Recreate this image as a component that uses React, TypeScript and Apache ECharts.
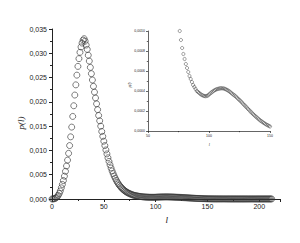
import React, { useEffect, useRef } from "react";
import * as echarts from "echarts";

// l runs from 0 in steps of 1
const lStart = 0;
const pValues: number[] = [
  // 0-9
  0, 0.00001, 0.00005, 0.00012, 0.00025, 0.00045, 0.00075, 0.00115, 0.00165, 0.0023,
  // 10-19
  0.003, 0.0038, 0.0047, 0.0057, 0.0068, 0.008, 0.0094, 0.011, 0.0128, 0.0148,
  // 20-29
  0.017, 0.0192, 0.0214, 0.0235, 0.0255, 0.0273, 0.0289, 0.0302, 0.0313, 0.0321,
  // 30-39
  0.0327, 0.033, 0.0325, 0.0317, 0.0308, 0.0296, 0.0284, 0.0271, 0.0258, 0.0245,
  // 40-49
  0.0232, 0.022, 0.0208, 0.0196, 0.0184, 0.0172, 0.0161, 0.015, 0.0139, 0.0129,
  // 50-59
  0.0119, 0.011, 0.0101, 0.00928, 0.00848, 0.00773, 0.00703, 0.00638, 0.00578, 0.00523,
  // 60-69
  0.00473, 0.00427, 0.00385, 0.00347, 0.00313, 0.00283, 0.00256, 0.00232, 0.0021, 0.0019,
  // 70-79
  0.00172, 0.00156, 0.00142, 0.0013, 0.00119, 0.00109, 0.001, 0.00091, 0.00083, 0.00077,
  // 80-89
  0.00072, 0.00067, 0.00063, 0.00059, 0.00055, 0.00052, 0.00049, 0.00046, 0.00044, 0.00042,
  // 90-99
  0.0004, 0.00039, 0.00038, 0.00037, 0.00036, 0.000355, 0.00035, 0.000348, 0.00035, 0.000355,
  // 100-109
  0.000365, 0.000375, 0.000385, 0.000395, 0.000403, 0.00041, 0.000416, 0.00042, 0.000424, 0.000426,
  // 110-119
  0.000427, 0.000427, 0.000425, 0.000421, 0.000416, 0.00041, 0.000402, 0.000393, 0.000383, 0.000373,
  // 120-129
  0.000364, 0.000354, 0.000344, 0.000333, 0.000321, 0.000309, 0.000297, 0.000285, 0.000272, 0.000259,
  // 130-139
  0.000246, 0.000234, 0.000221, 0.000208, 0.000195, 0.000183, 0.000171, 0.000159, 0.000148, 0.000137,
  // 140-149
  0.000126, 0.000116, 0.000106, 0.000097, 0.000088, 0.00008, 0.000072, 0.000065, 0.000058, 0.000051,
  // 150-159
  0.000045, 0.00004, 0.000036, 0.000032, 0.000029, 0.000026, 0.000024, 0.000022, 0.00002, 0.000019,
  // 160-169
  0.000018, 0.000017, 0.000017, 0.000016, 0.000016, 0.000015, 0.000015, 0.000014, 0.000014, 0.000013,
  // 170-179
  0.000013, 0.000013, 0.000012, 0.000012, 0.000012, 0.000011, 0.000011, 0.000011, 0.000011, 0.00001,
  // 180-189
  0.00001, 0.00001, 0.00001, 0.00001, 0.00001, 0.00001, 0.00001, 0.00001, 0.00001, 0.00001,
  // 190-199
  0.00001, 0.00001, 0.00001, 0.00001, 0.00001, 0.00001, 0.00001, 0.00001, 0.00001, 0.00001,
  // 200-212
  0.00001, 0.00001, 0.00001, 0.00001, 0.00001, 0.00001, 0.00001, 0.00001, 0.00001, 0.00001,
  0.00001, 0.00001, 0.00001,
];

const mainXRange = [0, 220];
const mainYRange = [0, 0.035];
const insetXRange = [50, 150];
const insetYRange = [0, 0.001];

const axisColor = "#222";
const labelFont = "Liberation Sans, Arial, sans-serif";
const titleFont = "Liberation Serif, Times New Roman, serif";

export default function App() {
  const ref = useRef<HTMLDivElement>(null);
  useEffect(() => {
    if (!ref.current) return;
    const chart = echarts.init(ref.current, null, { renderer: "svg" });
    const mainData = pValues.map((p, i) => [lStart + i, p]);
    const insetData = mainData.filter(
      ([l, p]) => l >= insetXRange[0] && l <= insetXRange[1] && p <= insetYRange[1]
    );
    const mkAxisLine = { show: true, onZero: false, lineStyle: { color: axisColor, width: 1 } };
    chart.setOption({
      animation: false,
      backgroundColor: "#fff",
      grid: [
        { left: 52, top: 29, width: 228, height: 170 },
        { left: 148, top: 31, width: 122, height: 100 },
      ],
      xAxis: [
        {
          gridIndex: 0,
          type: "value",
          min: mainXRange[0],
          max: mainXRange[1],
          interval: 50,
          axisLine: mkAxisLine,
          axisTick: { show: true, length: 3, lineStyle: { color: axisColor } },
          minorTick: { show: true, splitNumber: 2, length: 2, lineStyle: { color: axisColor } },
          splitLine: { show: false },
          axisLabel: { fontSize: 7, color: axisColor, margin: 4, fontFamily: labelFont, showMaxLabel: false },
        },
        {
          gridIndex: 1,
          type: "value",
          min: insetXRange[0],
          max: insetXRange[1],
          interval: 50,
          axisLine: { show: true, onZero: false, lineStyle: { color: axisColor, width: 0.7 } },
          axisTick: { show: true, length: 2, lineStyle: { color: axisColor, width: 0.7 } },
          minorTick: { show: true, splitNumber: 2, length: 1.2, lineStyle: { color: axisColor, width: 0.7 } },
          splitLine: { show: false },
          axisLabel: { fontSize: 3.5, color: axisColor, margin: 3, fontFamily: labelFont },
        },
      ],
      yAxis: [
        {
          gridIndex: 0,
          type: "value",
          min: mainYRange[0],
          max: mainYRange[1],
          interval: 0.005,
          axisLine: mkAxisLine,
          axisTick: { show: true, length: 3, lineStyle: { color: axisColor } },
          minorTick: { show: true, splitNumber: 2, length: 2, lineStyle: { color: axisColor } },
          splitLine: { show: false },
          axisLabel: {
            fontSize: 7,
            color: axisColor,
            margin: 5,
            fontFamily: labelFont,
            formatter: (v: number) => v.toFixed(3).replace(".", ","),
          },
        },
        {
          gridIndex: 1,
          type: "value",
          min: insetYRange[0],
          max: insetYRange[1],
          interval: 0.0002,
          axisLine: { show: true, onZero: false, lineStyle: { color: axisColor, width: 0.7 } },
          axisTick: { show: true, length: 2, lineStyle: { color: axisColor, width: 0.7 } },
          minorTick: { show: true, splitNumber: 2, length: 1.2, lineStyle: { color: axisColor, width: 0.7 } },
          splitLine: { show: false },
          axisLabel: {
            fontSize: 3.5,
            color: axisColor,
            margin: 3,
            fontFamily: labelFont,
            formatter: (v: number) => v.toFixed(4).replace(".", ","),
          },
        },
      ],
      series: [
        {
          type: "scatter",
          xAxisIndex: 0,
          yAxisIndex: 0,
          data: mainData,
          symbol: "circle",
          symbolSize: 6,
          clip: false,
          itemStyle: { color: "rgba(0,0,0,0)", borderColor: "#333", borderWidth: 0.8 },
        },
        {
          type: "scatter",
          xAxisIndex: 1,
          yAxisIndex: 1,
          data: insetData,
          symbol: "circle",
          symbolSize: 3.2,
          clip: true,
          itemStyle: { color: "rgba(0,0,0,0)", borderColor: "#333", borderWidth: 0.6 },
        },
      ],
      graphic: [
        {
          type: "text",
          x: 20.5,
          y: 123,
          rotation: Math.PI / 2,
          style: {
            text: "p(l)",
            font: `italic 9px ${titleFont}`,
            fill: "#111",
            align: "center",
            verticalAlign: "middle",
          },
        },
        {
          type: "text",
          x: 166.7,
          y: 220,
          style: {
            text: "l",
            font: `italic 9px ${titleFont}`,
            fill: "#111",
            align: "center",
            verticalAlign: "middle",
          },
        },
        {
          type: "text",
          x: 129.5,
          y: 85,
          rotation: Math.PI / 2,
          style: {
            text: "p(l)",
            font: `italic 3.5px ${titleFont}`,
            fill: "#111",
            align: "center",
            verticalAlign: "middle",
          },
        },
        {
          type: "text",
          x: 209.3,
          y: 144,
          style: {
            text: "l",
            font: `italic 4px ${titleFont}`,
            fill: "#111",
            align: "center",
            verticalAlign: "middle",
          },
        },
      ],
    });
    return () => chart.dispose();
  }, []);
  return <div ref={ref} style={{ width: 300, height: 243, position: "absolute", left: 0, top: 0 }} />;
}
